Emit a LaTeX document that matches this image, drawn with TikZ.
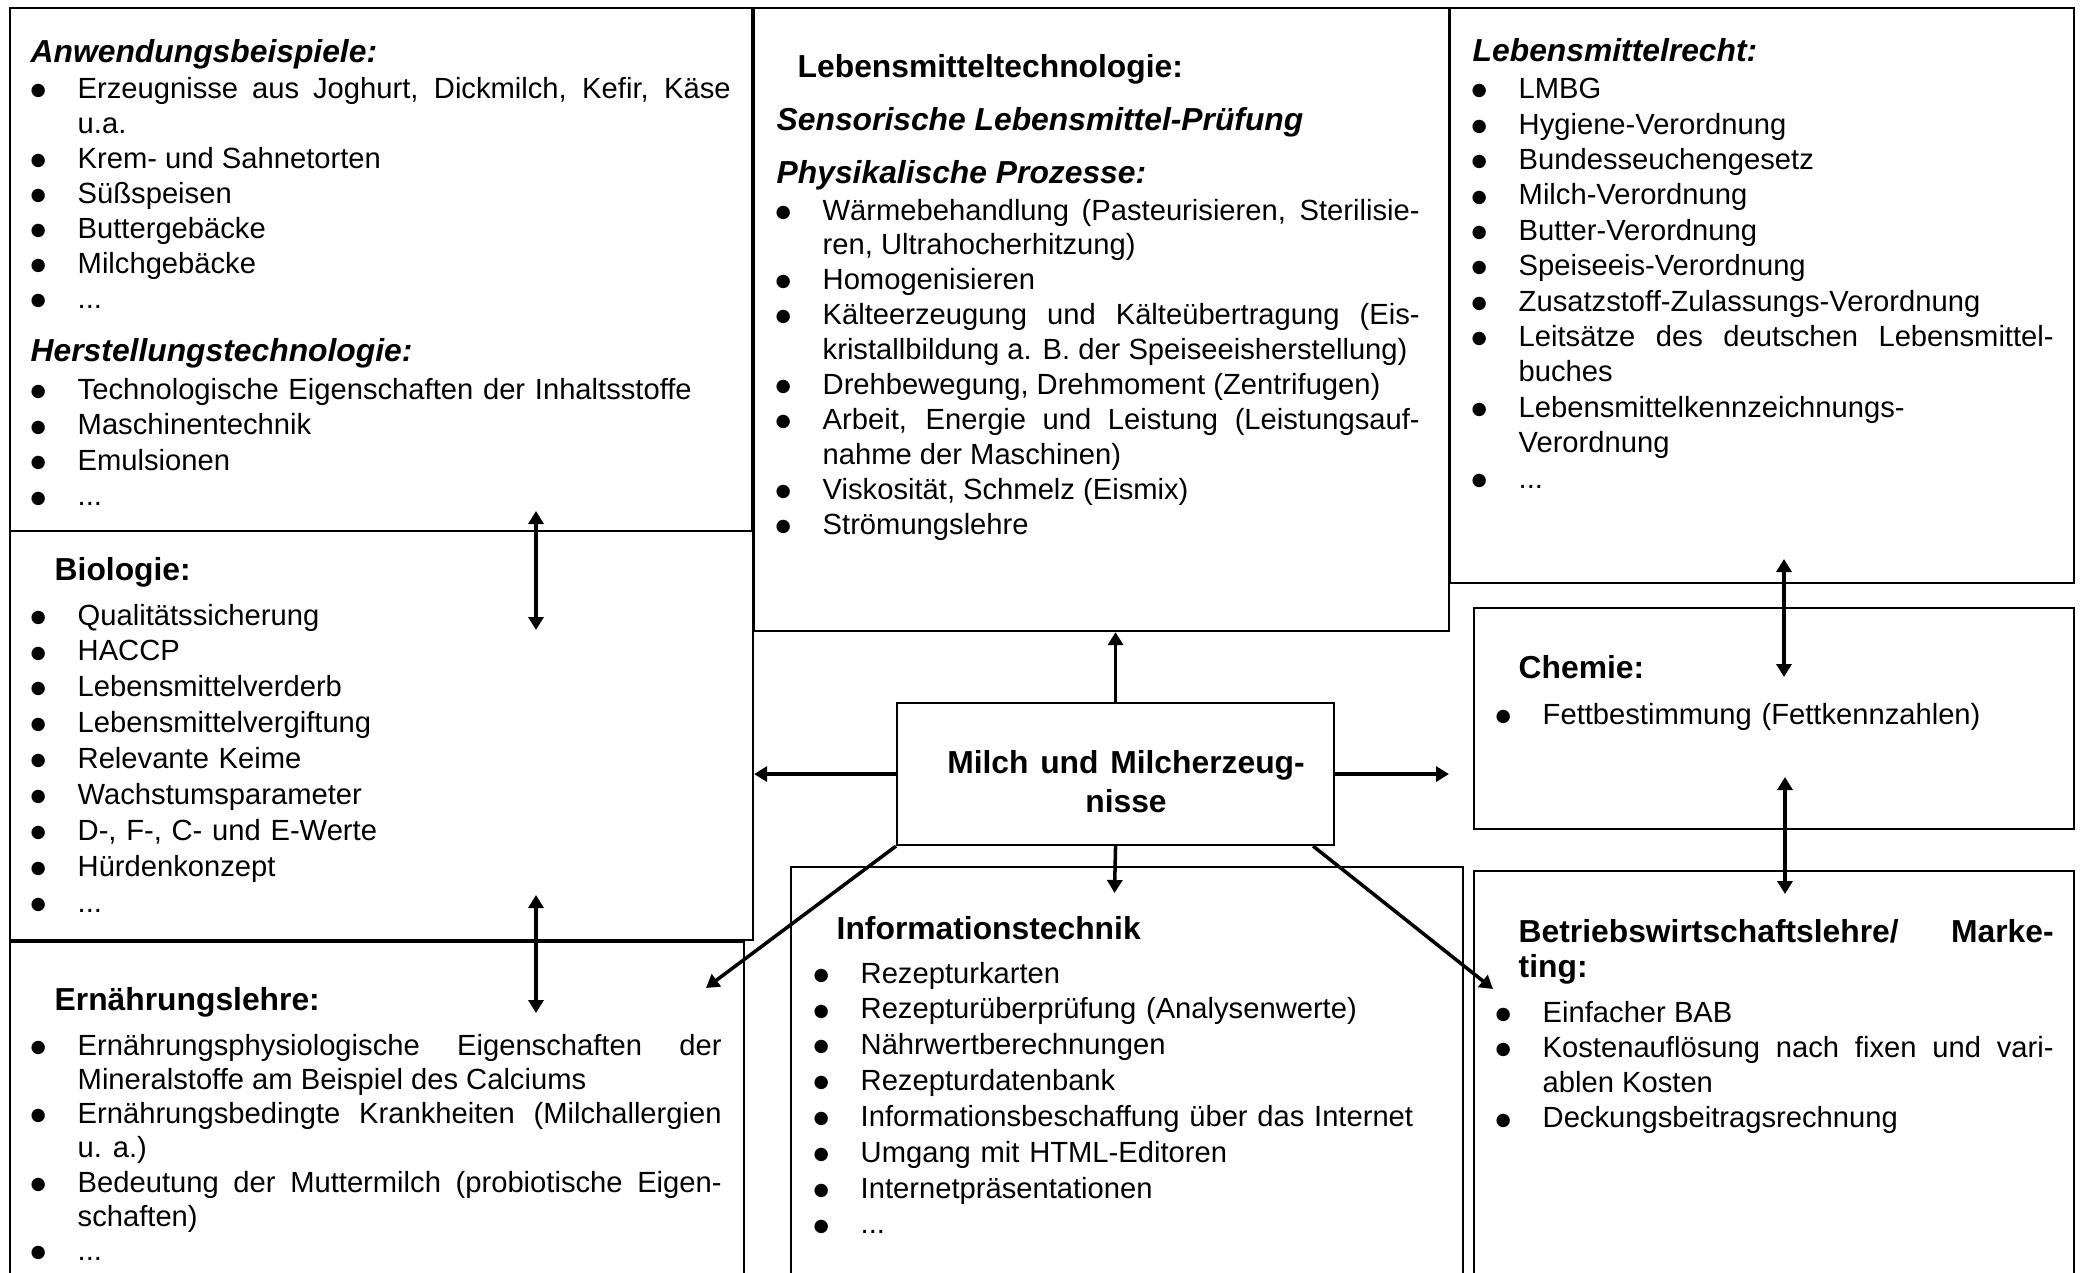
\documentclass[tikz,border=0pt]{standalone}
\usepackage{fontspec}
\setmainfont{Liberation Sans}
\newfontfamily\dotfont{DejaVu Sans}
\usetikzlibrary{arrows.meta}
\definecolor{Ink}{HTML}{000000}
\newlength\bulind
\setlength\bulind{0.47cm}
\newcommand\itm[1]{\hangindent=\bulind\hangafter=1\makebox[\bulind][l]{\raisebox{0.8pt}{\dotfont\fontsize{5.0}{6}\selectfont ●}}#1\par}
\hyphenpenalty=10000
\exhyphenpenalty=10000
\tikzset{
  panel/.style={rectangle,draw=Ink,line width=0.6pt,anchor=north west,inner sep=0pt},
  hd/.style={anchor=base west,inner sep=0pt,text=Ink,font=\fontsize{9.05}{10.3}\selectfont\bfseries},
  hi/.style={hd,font=\fontsize{9.05}{10.3}\selectfont\bfseries\itshape},
  lst/.style={anchor=base west,inner sep=0pt,text=Ink,align=left,font=\fontsize{8.3}{#1}\selectfont,
              execute at begin node={\fontsize{8.3}{#1}\selectfont}},
  jst/.style={lst=#1,align=justify},
  mid/.style={anchor=base,inner sep=0pt,text=Ink,text width=4.0cm,align=center,
              execute at begin node={\fontsize{9.05}{11.1}\selectfont\bfseries}},
  arr/.style={draw=Ink,line width=1pt,-{Triangle[length=.13cm,width=.15cm]}},
  dbl/.style={arr,{Triangle[length=.13cm,width=.15cm]}-{Triangle[length=.13cm,width=.15cm]}},
}
\begin{document}
\begin{tikzpicture}[x=1cm,y=1cm]
\useasboundingbox (0,0) rectangle (20.83,-12.73);
% Panels; the bottom row runs off the page.
\node[panel,minimum width=7.42cm,minimum height=5.23cm] (anw) at (0.09,-0.07) {};
\node[panel,minimum width=7.43cm,minimum height=4.09cm] (bio) at (0.09,-5.30) {};
\node[panel,minimum width=7.34cm,minimum height=3.60cm] (ern) at (0.09,-9.41) {};
\node[panel,minimum width=6.95cm,minimum height=6.23cm] (lmt) at (7.53,-0.07) {};
\node[panel,minimum width=6.24cm,minimum height=5.75cm] (lmr) at (14.49,-0.07) {};
\node[panel,minimum width=6.00cm,minimum height=2.21cm] (chem) at (14.73,-6.07) {};
\node[panel,minimum width=6.00cm,minimum height=4.40cm] (bwl) at (14.73,-8.70) {};
\node[panel,minimum width=6.72cm,minimum height=4.40cm] (it) at (7.90,-8.66) {};
\node[panel,minimum width=4.37cm,minimum height=1.42cm] (milch) at (8.96,-7.02) {};
\node[mid] (milchtx) at (11.26,-7.73) {Milch und Milcherzeug-\\nisse};
% Left column
\node[hi] (anwhd) at (0.30,-0.62) {Anwendungsbeispiele:};
\node[jst=9.96,text width=7.00cm] (anwls) at (0.30,-0.985) {\itm{Erzeugnisse aus Joghurt, Dickmilch, Kefir, Käse\linebreak u.a.}\itm{Krem- und Sahnetorten}\itm{Süßspeisen}\itm{Buttergebäcke}\itm{Milchgebäcke}\itm{...}};
\node[hi] (herhd) at (0.30,-3.616) {Herstellungstechnologie:};
\node[lst=10.1,text width=7.00cm] (herls) at (0.30,-3.995) {\itm{Technologische Eigenschaften der Inhaltsstoffe}\itm{Maschinentechnik}\itm{Emulsionen}\itm{...}};
\node[hd] (biohd) at (0.54,-5.80) {Biologie:};
\node[lst=10.21,text width=7.00cm] (biols) at (0.30,-6.25) {\itm{Qualitätssicherung}\itm{HACCP}\itm{Lebensmittelverderb}\itm{Lebensmittelvergiftung}\itm{Relevante Keime}\itm{Wachstumsparameter}\itm{D-, F-, C- und E-Werte}\itm{Hürdenkonzept}\itm{...}};
\node[hd] (ernhd) at (0.54,-10.10) {Ernährungslehre:};
\node[jst=9.75,text width=6.91cm] (ernls) at (0.30,-10.55) {\itm{Ernährungsphysiologische Eigenschaften der\linebreak Mineralstoffe am Beispiel des Calciums}\itm{Ernährungsbedingte Krankheiten (Milchallergien\linebreak u. a.)}\itm{Bedeutung der Muttermilch (probiotische Eigen-\linebreak schaften)}\itm{...}};
% Middle column
\node[hd] (lmthd) at (7.97,-0.78) {Lebensmitteltechnologie:};
\node[hi] (senhd) at (7.76,-1.30) {Sensorische Lebensmittel-Prüfung};
\node[hi] (phyhd) at (7.76,-1.83) {Physikalische Prozesse:};
\node[jst=9.93,text width=6.44cm] (phyls) at (7.75,-2.20) {\itm{Wärmebehandlung (Pasteurisieren, Sterilisie-\linebreak ren, Ultrahocherhitzung)}\itm{Homogenisieren}\itm{Kälteerzeugung und Kälteübertragung (Eis-\linebreak kristallbildung a. B. der Speiseeisherstellung)}\itm{Drehbewegung, Drehmoment (Zentrifugen)}\itm{Arbeit, Energie und Leistung (Leistungsauf-\linebreak nahme der Maschinen)}\itm{Viskosität, Schmelz (Eismix)}\itm{Strömungslehre}};
\node[hd] (ithd) at (8.36,-9.39) {Informationstechnik};
\node[lst=10.2,text width=6.20cm] (itls) at (8.13,-9.83) {\itm{Rezepturkarten}\itm{Rezepturüberprüfung (Analysenwerte)}\itm{Nährwertberechnungen}\itm{Rezepturdatenbank}\itm{Informationsbeschaffung über das Internet}\itm{Umgang mit HTML-Editoren}\itm{Internetpräsentationen}\itm{...}};
% Right column
\node[hi] (lmrhd) at (14.72,-0.61) {Lebensmittelrecht:};
\node[jst=10.07,text width=5.82cm] (lmrls) at (14.71,-0.987) {\itm{LMBG}\itm{Hygiene-Verordnung}\itm{Bundesseuchengesetz}\itm{Milch-Verordnung}\itm{Butter-Verordnung}\itm{Speiseeis-Verordnung}\itm{Zusatzstoff-Zulassungs-Verordnung}\itm{Leitsätze des deutschen Lebensmittel-\linebreak buches}\itm{Lebensmittelkennzeichnungs-\\Verordnung}\itm{...}};
\node[hd] (chemhd) at (15.18,-6.78) {Chemie:};
\node[lst=10.1,text width=5.60cm] (chemls) at (14.95,-7.24) {\itm{Fettbestimmung (Fettkennzahlen)}};
\node[hd,text width=5.35cm,align=justify,execute at begin node={\fontsize{9.05}{10.24}\selectfont\bfseries}] (bwlhd) at (15.18,-9.42) {Betriebswirtschaftslehre/ Marke-\linebreak ting:};
\node[jst=10.04,text width=5.58cm] (bwlls) at (14.95,-10.22) {\itm{Einfacher BAB}\itm{Kostenauflösung nach fixen und vari-\linebreak ablen Kosten}\itm{Deckungsbeitragsrechnung}};
% Arrow ends that sit inside a panel or across a border.
\coordinate (itin) at (11.145,-8.93); \coordinate (ernin) at (7.06,-9.88); \coordinate (bwlin) at (14.93,-9.89);
\coordinate (ab1) at (5.36,-5.11); \coordinate (ab2) at (5.36,-6.30);
\coordinate (be1) at (5.36,-8.95); \coordinate (be2) at (5.36,-10.13);
\coordinate (rc1) at (17.84,-5.59); \coordinate (rc2) at (17.84,-6.77);
\coordinate (cw1) at (17.85,-7.77); \coordinate (cw2) at (17.85,-8.94);
\draw[arr] (milch.north) -- (milch.north |- lmt.south);
\draw[arr] (milch.south) -- (itin);
\draw[arr] (milch.west) -- (milch.west -| bio.east);
\draw[arr] (milch.east) -- (milch.east -| lmr.west);
\draw[arr] (milch.south west) -- (ernin);
\draw[arr] ([xshift=-.22cm]milch.south east) -- (bwlin);
\draw[dbl] (ab1) -- (ab2); \draw[dbl] (be1) -- (be2);
\draw[dbl] (rc1) -- (rc2); \draw[dbl] (cw1) -- (cw2);
\end{tikzpicture}
\end{document}
